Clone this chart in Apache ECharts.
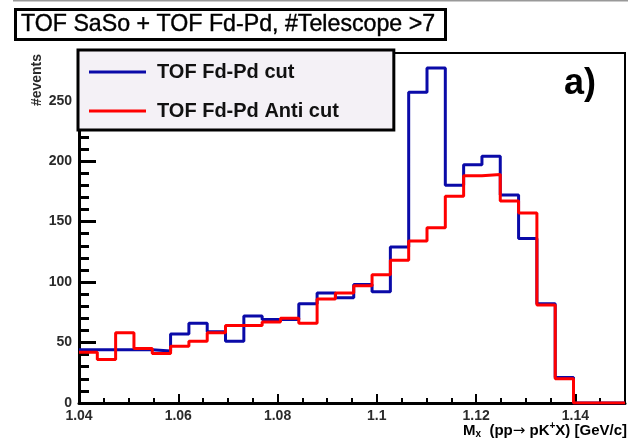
<!DOCTYPE html>
<html>
<head>
<meta charset="utf-8">
<script src="https://cdn.jsdelivr.net/npm/echarts@6/dist/echarts.min.js"></script>
<style>
  html, body { margin: 0; padding: 0; background: #fff; }
  #main { width: 628px; height: 441px; }
</style>
</head>
<body>
<div id="main"></div>
<script>
// histogram binning (GeV/c)
var binStart = 1.04;
var binWidth = 0.00369;
var xMin = 1.04;
var xMax = 1.15;
var xTicks = [1.04, 1.06, 1.08, 1.1, 1.12, 1.14];

// bin contents
var cutCounts = [44, 44, 44, 44, 43, 57, 66, 59, 51, 72, 69, 69, 82, 91, 87, 98, 92, 129, 257, 277, 180, 197, 204, 172, 136, 82, 21];
var antiCounts = [42, 36, 58, 45, 41, 47, 51, 58, 64, 64, 67, 70, 66, 86, 91, 97, 106, 118, 134, 145, 171, 188, 189, 167, 157, 81, 20];

var seriesNames = ['TOF Fd-Pd cut', 'TOF Fd-Pd Anti cut'];

// turn bin contents into step points (left edge of every bin)
function histPoints(vals) {
  var pts = [];
  for (var i = 0; i < vals.length; i++) {
    pts.push([binStart + i * binWidth, vals[i]]);
  }
  pts.push([binStart + vals.length * binWidth, 0]);
  pts.push([xMax, 0]);
  return pts;
}

var chart = echarts.init(document.getElementById('main'));
var font = 'Liberation Sans, Arial, Helvetica, sans-serif';

chart.setOption({
  animation: false,
  title: {
    text: 'TOF SaSo + TOF Fd-Pd, #Telescope >7',
    left: 15,
    top: 9,
    padding: [3, 10, 3, 6],
    borderColor: '#000',
    borderWidth: 3,
    backgroundColor: '#fff',
    textStyle: {
      fontFamily: font, fontSize: 23.2, fontWeight: 'normal', color: '#000', lineHeight: 25,
      textBorderColor: '#000', textBorderWidth: 0.4
    }
  },
  legend: {
    orient: 'vertical',
    left: 78,
    top: 50,
    padding: [12, 55, 9, 11],
    itemGap: 19,
    itemWidth: 57,
    itemHeight: 3,
    icon: 'rect',
    backgroundColor: '#f4f1f6',
    borderColor: '#000',
    borderWidth: 3,
    data: seriesNames,
    textStyle: { fontFamily: font, fontSize: 20, fontWeight: 'bold', color: '#111', lineHeight: 20, padding: [0, 0, 0, 6] }
  },
  grid: {
    left: 79, right: -1, top: 53, bottom: 38,
    show: true, borderColor: '#000', borderWidth: 2, backgroundColor: 'transparent'
  },
  xAxis: {
    type: 'value',
    min: xMin,
    max: xMax,
    interval: 0.02,
    axisLine: { lineStyle: { color: '#000', width: 3 } },
    axisTick: { inside: true, length: 9, lineStyle: { color: '#000', width: 2 } },
    minorTick: { show: true, splitNumber: 4, length: 5, lineStyle: { color: '#000', width: 2 } },
    splitLine: { show: false },
    axisLabel: {
      margin: 6,
      fontFamily: font, fontSize: 14, fontWeight: 'bold', color: '#2a2a2a',
      formatter: function (v) {
        for (var i = 0; i < xTicks.length; i++) {
          if (Math.abs(v - xTicks[i]) < 1e-6) return String(xTicks[i]);
        }
        return '';
      }
    }
  },
  yAxis: {
    type: 'value',
    min: 0,
    max: 289.4,
    interval: 50,
    axisLine: { lineStyle: { color: '#000', width: 3 } },
    axisTick: { inside: true, length: 17, lineStyle: { color: '#000', width: 3 } },
    minorTick: { show: true, splitNumber: 5, length: 10, lineStyle: { color: '#000', width: 3 } },
    splitLine: { show: false },
    axisLabel: {
      margin: 7,
      fontFamily: font, fontSize: 14, fontWeight: 'bold', color: '#2a2a2a',
      formatter: function (v) { return v % 50 === 0 ? String(v) : ''; }
    }
  },
  series: [
    {
      name: seriesNames[0],
      type: 'line',
      step: 'end',
      symbol: 'none',
      data: histPoints(cutCounts),
      color: '#0a0aa8',
      lineStyle: { width: 3, color: '#0a0aa8' },
      z: 3
    },
    {
      name: seriesNames[1],
      type: 'line',
      step: 'end',
      symbol: 'none',
      data: histPoints(antiCounts),
      color: '#ff0000',
      lineStyle: { width: 3, color: '#ff0000' },
      z: 4
    }
  ],
  graphic: [
    {
      type: 'line',
      shape: { x1: 13, y1: 0.5, x2: 628, y2: 0.5 },
      style: { stroke: '#999', lineWidth: 2 }
    },
    {
      type: 'text',
      x: 37, y: 80,
      rotation: Math.PI / 2,
      style: {
        text: '#events',
        fontFamily: font, fontSize: 14, fontWeight: 'bold', fill: '#2a2a2a',
        align: 'center', verticalAlign: 'middle'
      }
    },
    {
      type: 'text',
      x: 580, y: 84,
      style: {
        text: 'a)',
        fontFamily: font, fontSize: 36, fontWeight: 'bold', fill: '#000',
        align: 'center', verticalAlign: 'middle'
      }
    },
    {
      type: 'text',
      x: 627, y: 431,
      style: {
        text: '{m|M}{sub|x}{m|  (pp}{arr|\u2192}{m| pK}{sup|+}{m|X) [GeV/c]}',
        align: 'right', verticalAlign: 'middle',
        rich: {
          m: { fontFamily: font, fontSize: 15, fontWeight: 'bold', color: '#2a2a2a' },
          sub: { fontFamily: font, fontSize: 10, fontWeight: 'bold', color: '#2a2a2a', padding: [7, 0, 0, 0] },
          sup: { fontFamily: font, fontSize: 10, fontWeight: 'bold', color: '#2a2a2a', padding: [0, 0, 9, 0] },
          arr: { fontFamily: 'DejaVu Sans, sans-serif', fontSize: 15, color: '#2a2a2a' }
        }
      }
    }
  ]
});
</script>
</body>
</html>
